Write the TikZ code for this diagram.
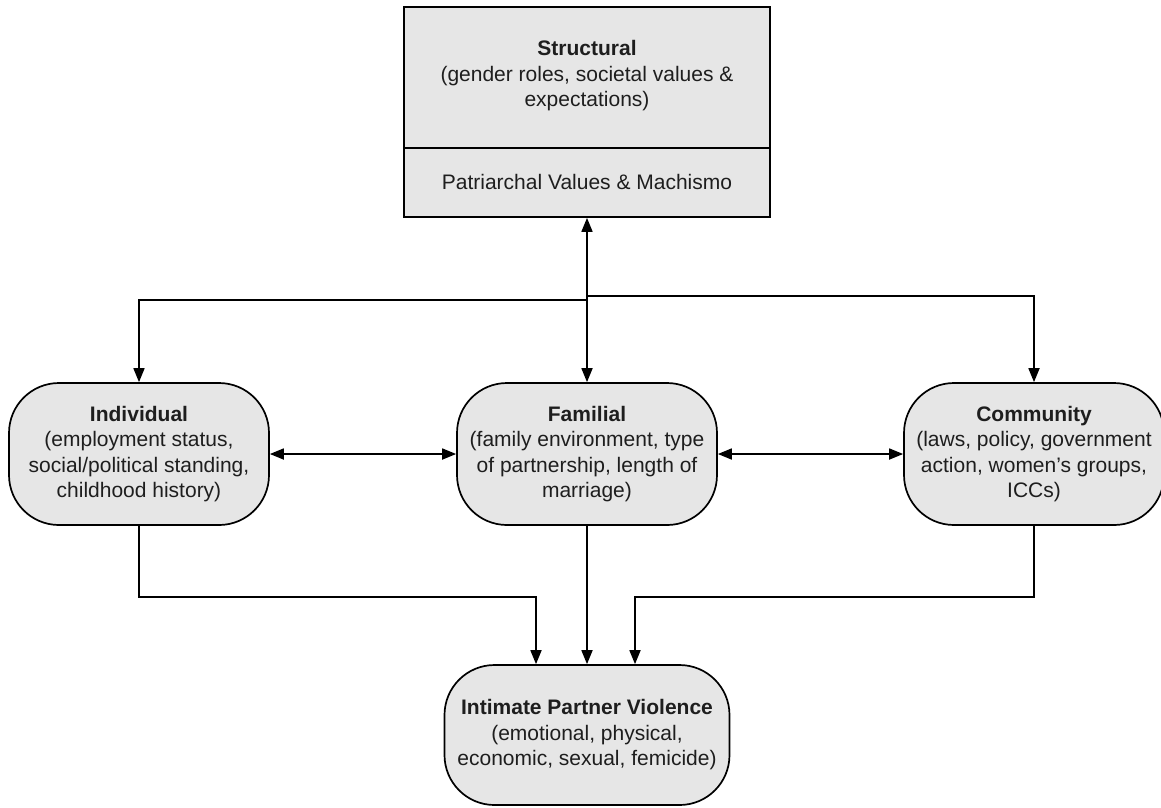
\documentclass[tikz,border=0pt]{standalone}
\usepackage{fontspec}
\setmainfont{Liberation Sans}
\usetikzlibrary{arrows.meta}
\definecolor{boxfill}{RGB}{230,230,230}
\definecolor{ink}{RGB}{30,30,30}
\begin{document}
\begin{tikzpicture}[x=1pt,y=-1pt, font=\fontsize{21}{25.5}\selectfont, text=ink,
 box/.style={draw=black, line width=1.7pt, fill=boxfill},
 rbox/.style={box, rounded corners=50pt, minimum width=260pt, minimum height=142pt, align=center, inner sep=0pt},
 tip/.tip={Triangle[length=14pt,width=11pt]},
 arr/.style={-tip, line width=1.7pt},
 darr/.style={tip-tip, line width=1.7pt}]
\useasboundingbox (0,0) rectangle (1161,807);
\node[box, minimum width=366pt, minimum height=210pt, inner sep=0pt] (top) at (587,112) {};
\node[align=center] (toptext) at (587,76) {\textbf{Structural}\\(gender roles, societal values \&\\expectations)};
\draw[line width=1.7pt] (top.west |- 0,148) -- (top.east |- 0,148);
\node (patr) at (587,182) {Patriarchal Values \& Machismo};
\node[rbox] (ind) at (139,454) {\textbf{Individual}\\(employment status,\\social/political standing,\\childhood history)};
\node[rbox] (fam) at (587,454) {\textbf{Familial}\\(family environment, type\\of partnership, length of\\marriage)};
\node[rbox] (com) at (1034,454) {\textbf{Community}\\(laws, policy, government\\action, women's groups,\\ICCs)};
\node[rbox, minimum width=285pt, minimum height=140pt] (ipv) at (587,735) {\textbf{Intimate Partner Violence}\\(emotional, physical,\\economic, sexual, femicide)};
\draw[darr] (fam.north) -- (top.south);
\coordinate (jl) at (587,300);
\coordinate (jr) at (587,296);
\draw[arr] (jl) -| (ind.north);
\draw[arr] (jr) -| (com.north);
\draw[darr] (ind.east) -- (fam.west);
\draw[darr] (fam.east) -- (com.west);
\coordinate (bl) at (536,597);
\coordinate (br) at (635,597);
\draw[arr] (ind.south) |- (bl) -- (bl |- ipv.north);
\draw[arr] (fam.south) -- (ipv.north);
\draw[arr] (com.south) |- (br) -- (br |- ipv.north);
\end{tikzpicture}
\end{document}
